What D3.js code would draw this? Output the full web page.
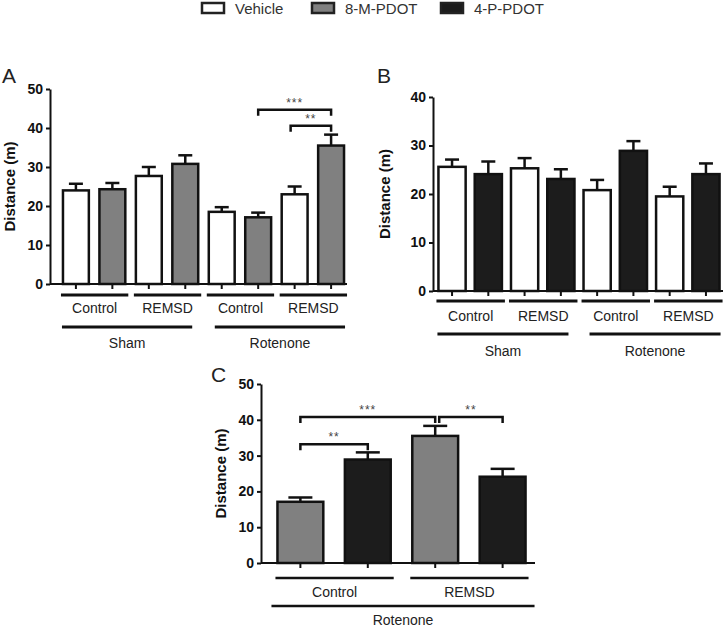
<!DOCTYPE html>
<html>
<head>
<meta charset="utf-8">
<script src="https://cdn.jsdelivr.net/npm/d3@7"></script>
<style>
  body { margin: 0; background: #fff; }
  svg { font-family: "Liberation Sans", Arial, sans-serif; }
</style>
</head>
<body>
<div id="chart"></div>
<script>
// Treatment series
var seriesNames = ["Vehicle", "8-M-PDOT", "4-P-PDOT"];
var seriesFill = ["#ffffff", "#808080", "#1c1c1c"];

// Subgroups: Sham Control, Sham REMSD, Rotenone Control, Rotenone REMSD
var subgroups = ["Control", "REMSD", "Control", "REMSD"];
var groups = ["Sham", "Rotenone"];

// Panel A: Vehicle vs 8-M-PDOT
var vehicleA = [24.0, 27.7, 18.5, 23.0];
var vehicleAErr = [1.7, 2.3, 1.2, 2.0];
var m8A = [24.3, 30.8, 17.1, 35.5];
var m8AErr = [1.6, 2.2, 1.2, 2.8];

// Panel B: Vehicle vs 4-P-PDOT
var vehicleB = [25.6, 25.3, 20.8, 19.5];
var vehicleBErr = [1.5, 2.1, 2.1, 2.0];
var p4B = [24.1, 23.1, 28.9, 24.1];
var p4BErr = [2.6, 2.0, 2.0, 2.2];

// Panel C: Rotenone only, 8-M-PDOT vs 4-P-PDOT
var subgroupsC = ["Control", "REMSD"];
var m8C = [17.1, 35.5];
var m8CErr = [1.2, 2.8];
var p4C = [28.9, 24.1];
var p4CErr = [2.0, 2.2];

var ticksA = [0, 10, 20, 30, 40, 50];
var ticksB = [0, 10, 20, 30, 40];
var ticksC = [0, 10, 20, 30, 40, 50];

var svg = d3.select("#chart").append("svg")
    .attr("width", 726)
    .attr("height", 630);

// legend
var legendX = [201, 311, 440];
seriesNames.forEach(function(name, i) {
    svg.append("rect")
        .attr("x", legendX[i] + 1).attr("y", 3)
        .attr("width", 22).attr("height", 10)
        .attr("fill", seriesFill[i])
        .attr("stroke", "#222").attr("stroke-width", 2.5);
    svg.append("text")
        .attr("x", legendX[i] + 34).attr("y", 14)
        .attr("font-size", "15px").attr("fill", "#333")
        .text(name);
});

// builds bar list from paired series
function makeBars(labels, s1, e1, f1, s2, e2, f2) {
    var bars = [];
    labels.forEach(function(l, i) {
        bars.push({ key: i + "a", value: s1[i], err: e1[i], fill: f1 });
        bars.push({ key: i + "b", value: s2[i], err: e2[i], fill: f2 });
    });
    return bars;
}

function drawPanel(p) {
    var g = svg.append("g");

    var y = d3.scaleLinear().domain([0, p.yMax]).range([p.y0, p.yTop]);
    var x = d3.scaleBand()
        .domain(p.bars.map(d => d.key))
        .range(p.xRange)
        .paddingInner(p.padIn)
        .paddingOuter(p.padOut);
    var bw = x.bandwidth();

    // panel letter
    g.append("text")
        .attr("x", p.letterX).attr("y", p.letterY)
        .attr("font-size", "21px").attr("fill", "#222")
        .text(p.letter);

    // y axis
    var yAxis = g.append("g")
        .attr("transform", "translate(" + p.axisX + ",0)")
        .call(d3.axisLeft(y).tickValues(p.ticks).tickSize(4).tickSizeOuter(0).tickPadding(3));
    yAxis.select(".domain").attr("stroke", "#111").attr("stroke-width", 2);
    yAxis.selectAll(".tick line").attr("stroke", "#111").attr("stroke-width", 2);
    yAxis.selectAll(".tick text")
        .attr("font-size", "14px").attr("font-weight", "bold").attr("fill", "#111")
        .attr("font-family", "Liberation Sans, Arial, sans-serif");

    g.append("text")
        .attr("transform", "translate(" + p.yLabelX + "," + ((p.y0 + p.yTop) / 2) + ") rotate(-90)")
        .attr("text-anchor", "middle")
        .attr("font-size", "15px").attr("font-weight", "bold").attr("fill", "#111")
        .text("Distance (m)");

    // error bars
    var eb = g.selectAll(".err").data(p.bars).enter().append("g");
    eb.append("line")
        .attr("x1", d => x(d.key) + bw / 2).attr("x2", d => x(d.key) + bw / 2)
        .attr("y1", d => y(d.value)).attr("y2", d => y(d.value + d.err))
        .attr("stroke", "#111").attr("stroke-width", 2.5);
    eb.append("line")
        .attr("x1", d => x(d.key) + bw / 2 - p.cap).attr("x2", d => x(d.key) + bw / 2 + p.cap)
        .attr("y1", d => y(d.value + d.err)).attr("y2", d => y(d.value + d.err))
        .attr("stroke", "#111").attr("stroke-width", 2.5);

    // bars
    g.selectAll(".bar").data(p.bars).enter().append("rect")
        .attr("x", d => x(d.key))
        .attr("y", d => y(d.value))
        .attr("width", bw)
        .attr("height", d => y(0) - y(d.value))
        .attr("fill", d => d.fill)
        .attr("stroke", "#111").attr("stroke-width", 2.5);

    // x axis
    var xAxis = g.append("g")
        .attr("transform", "translate(0," + p.y0 + ")")
        .call(d3.axisBottom(x).tickSize(5).tickSizeOuter(0).tickFormat(""));
    xAxis.select(".domain").attr("d", "M" + p.axisX + ",0H" + p.axisEnd)
        .attr("stroke", "#111").attr("stroke-width", 2);
    xAxis.selectAll(".tick line").attr("stroke", "#111").attr("stroke-width", 2);

    // subgroup lines and labels
    p.sub.forEach(function(lab, i) {
        var first = p.bars[i * 2].key, last = p.bars[i * 2 + 1].key;
        var x1 = x(first) - 2, x2 = x(last) + bw + 3;
        g.append("line")
            .attr("x1", x1).attr("x2", x2)
            .attr("y1", p.row1).attr("y2", p.row1)
            .attr("stroke", "#111").attr("stroke-width", p.lineW);
        g.append("text")
            .attr("x", (x1 + x2) / 2).attr("y", p.row1 + p.lab1)
            .attr("text-anchor", "middle")
            .attr("font-size", "14px").attr("fill", "#222")
            .text(lab);
    });

    // group lines and labels
    p.grp.forEach(function(lab, i) {
        var n = p.bars.length / p.grp.length;
        var first = p.bars[i * n].key, last = p.bars[i * n + n - 1].key;
        var x1 = x(first) - 1 + (i > 0 ? 7 : 0), x2 = x(last) + bw + 1 - (i < p.grp.length - 1 ? 7 : 0);
        if (p.grp.length === 1) { x1 = x(first) - 6; x2 = x(last) + bw + 9; }
        g.append("line")
            .attr("x1", x1).attr("x2", x2)
            .attr("y1", p.row2).attr("y2", p.row2)
            .attr("stroke", "#111").attr("stroke-width", p.lineW);
        g.append("text")
            .attr("x", (x1 + x2) / 2).attr("y", p.row2 + p.lab2)
            .attr("text-anchor", "middle")
            .attr("font-size", "14px").attr("fill", "#222")
            .text(lab);
    });

    // significance brackets
    p.sig.forEach(function(s) {
        var xa = x(p.bars[s.from].key) + bw / 2 + (s.dx1 || 0);
        var xb = x(p.bars[s.to].key) + bw / 2 + (s.dx2 || 0);
        var yy = y(s.level);
        g.append("path")
            .attr("d", "M" + xa + "," + (yy + 6) + "V" + yy + "H" + xb + "V" + (yy + 6))
            .attr("fill", "none").attr("stroke", "#111").attr("stroke-width", 2.5);
        g.append("text")
            .attr("x", (xa + xb) / 2).attr("y", yy - 3)
            .attr("text-anchor", "middle")
            .attr("font-size", "12px").attr("fill", "#444")
            .attr("letter-spacing", "1px")
            .text(s.label);
    });
}

drawPanel({
    letter: "A", letterX: 2, letterY: 83,
    bars: makeBars(subgroups, vehicleA, vehicleAErr, seriesFill[0], m8A, m8AErr, seriesFill[1]),
    sub: subgroups, grp: groups,
    yMax: 50, ticks: ticksA, y0: 284, yTop: 89,
    axisX: 50, axisEnd: 347, xRange: [57.5, 349.5], padIn: 0.29, padOut: 0.15,
    yLabelX: 15, cap: 7, lineW: 3,
    row1: 295, lab1: 18, row2: 327, lab2: 21,
    sig: [
        { from: 5, to: 7, level: 44.7, label: "***" },
        { from: 6, to: 7, level: 40.6, label: "**", dx1: -4 }
    ]
});

drawPanel({
    letter: "B", letterX: 377, letterY: 83,
    bars: makeBars(subgroups, vehicleB, vehicleBErr, seriesFill[0], p4B, p4BErr, seriesFill[2]),
    sub: subgroups, grp: groups,
    yMax: 40, ticks: ticksB, y0: 291, yTop: 97,
    axisX: 433, axisEnd: 723, xRange: [433, 725], padIn: 0.25, padOut: 0.15,
    yLabelX: 390, cap: 7, lineW: 3,
    row1: 301, lab1: 20, row2: 334, lab2: 22,
    sig: []
});

drawPanel({
    letter: "C", letterX: 211, letterY: 382,
    bars: makeBars(subgroupsC, m8C, m8CErr, seriesFill[1], p4C, p4CErr, seriesFill[2]),
    sub: subgroupsC, grp: ["Rotenone"],
    yMax: 50, ticks: ticksC, y0: 563, yTop: 384,
    axisX: 261, axisEnd: 535, xRange: [266, 537], padIn: 0.32, padOut: 0.17,
    yLabelX: 226, cap: 12, lineW: 2.5,
    row1: 578, lab1: 19, row2: 606, lab2: 19,
    sig: [
        { from: 0, to: 2, level: 40.8, label: "***" },
        { from: 2, to: 3, level: 40.8, label: "**", dx1: 4 },
        { from: 0, to: 1, level: 33.2, label: "**" }
    ]
});
</script>
</body>
</html>
